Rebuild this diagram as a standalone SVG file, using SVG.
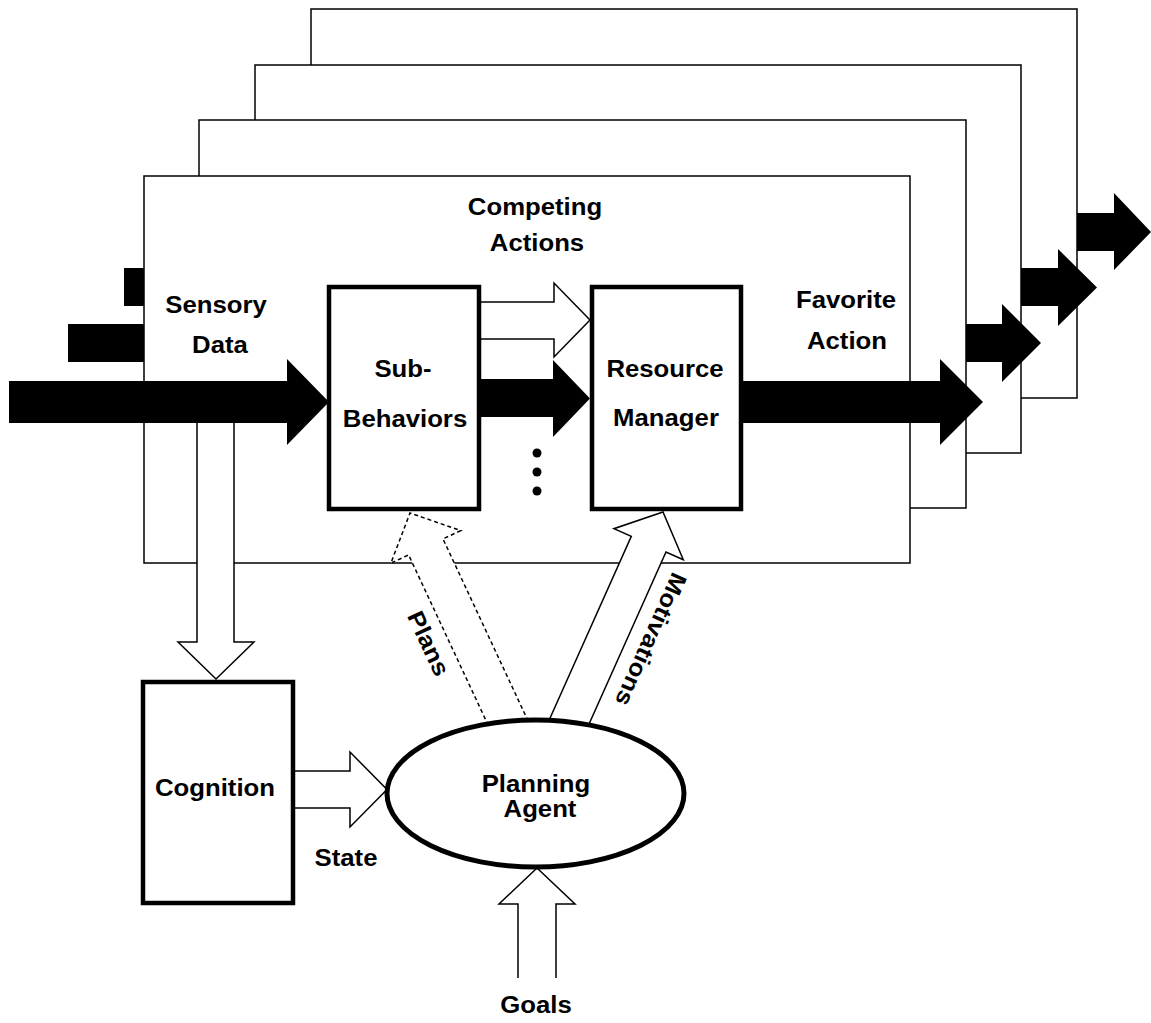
<svg xmlns="http://www.w3.org/2000/svg" width="1151" height="1023" viewBox="0 0 1151 1023">
  <style>
    .frame { fill: #fff; stroke: #000; stroke-width: 1.5; }
    .solid { fill: #000; stroke: none; }
    .hollow { fill: #fff; stroke: #000; stroke-width: 1.5; stroke-linejoin: miter; }
    .dashed { fill: #fff; stroke: #000; stroke-width: 1.5; stroke-dasharray: 4 3; }
    .box { fill: #fff; stroke: #000; stroke-width: 4.5; }
    .lbl { font-family: "Liberation Sans", Arial, Helvetica, sans-serif; font-weight: bold; font-size: 23.4px; text-anchor: middle; fill: #000; }
  </style>

  <!-- stacked behaviour layers, back to front; each layer's in/out arrows sit behind its own panel -->
  <g id="behavior-stack">
    <g id="layer-4">
      <rect class="solid" x="180" y="213" width="140" height="38"/>
      <polygon class="solid" points="1050,213 1114,213 1114,193 1151,232 1114,270 1114,251 1050,251"/>
      <rect class="frame" x="311" y="9" width="766" height="389"/>
    </g>
    <g id="layer-3">
      <rect class="solid" x="124" y="268" width="140" height="38"/>
      <polygon class="solid" points="990,268 1058,268 1058,249 1097,287.5 1058,326 1058,306 990,306"/>
      <rect class="frame" x="255" y="65" width="766" height="388"/>
    </g>
    <g id="layer-2">
      <rect class="solid" x="68" y="324" width="140" height="38"/>
      <polygon class="solid" points="930,324 1002,324 1002,304 1041,343 1002,382 1002,362 930,362"/>
      <rect class="frame" x="199" y="120" width="767" height="388"/>
    </g>
    <g id="layer-1">
      <rect class="frame" x="144" y="176" width="766" height="387"/>
    </g>
  </g>

  <g id="connectors">
    <!-- sensory data down to cognition -->
    <path class="hollow" d="M197,420 V642 H178 L216,679 L254,642 H234 V420"/>
    <!-- state: cognition to planning agent -->
    <path class="hollow" d="M295,771 H350 V752 L387,789.5 L350,827 V808 H295"/>
    <!-- goals into planning agent -->
    <path class="hollow" d="M518,978 V904 H499 L537,868 L575,904 H556 V978"/>
    <!-- plans: planning agent to sub-behaviors -->
    <polygon class="dashed" points="531.2,727.6 443,538.9 460.7,530.6 410,513 390.9,563.2 408.6,554.9 496.8,743.6"/>
    <!-- motivations: planning agent to resource manager -->
    <polygon class="hollow" points="544.5,730.5 631.3,536.4 613.9,528.7 663,512 683.3,559.7 666,552 579.2,746.1"/>
    <!-- competing actions -->
    <path class="hollow" d="M481,302 H554 V283 L590,320 L554,357 V339 H481"/>
    <polygon class="solid" points="479,379 553,379 553,360 590,398.5 553,437 553,417 479,417"/>
    <!-- sensory data in, favourite action out -->
    <polygon class="solid" points="9,381 287,381 287,359 329,402 287,445 287,423 9,423"/>
    <polygon class="solid" points="741,381 940,381 940,359 983,402 940,445 940,423 741,423"/>
  </g>

  <g id="sub-behaviors">
    <rect class="box" x="329" y="287" width="150" height="222"/>
    <text class="lbl" transform="translate(403,377) scale(1.1,1)">Sub-</text>
    <text class="lbl" transform="translate(405,427) scale(1.1,1)">Behaviors</text>
  </g>

  <g id="resource-manager">
    <rect class="box" x="592" y="287" width="149" height="222"/>
    <text class="lbl" transform="translate(665,377) scale(1.1,1)">Resource</text>
    <text class="lbl" transform="translate(666,426) scale(1.1,1)">Manager</text>
  </g>

  <g id="more-behaviors">
    <circle cx="537" cy="453" r="4.5"/>
    <circle cx="537" cy="472" r="4.5"/>
    <circle cx="537" cy="491" r="4.5"/>
  </g>

  <g id="cognition">
    <rect class="box" x="143" y="682" width="150" height="221"/>
    <text class="lbl" transform="translate(215,796) scale(1.1,1)">Cognition</text>
  </g>

  <g id="planning-agent">
    <ellipse cx="535.5" cy="793.5" rx="148.5" ry="73.5" fill="#fff" stroke="#000" stroke-width="5"/>
    <text class="lbl" transform="translate(536,792) scale(1.1,1)">Planning</text>
    <text class="lbl" transform="translate(540,817) scale(1.1,1)">Agent</text>
  </g>

  <g id="labels">
    <text class="lbl" transform="translate(535,215) scale(1.1,1)">Competing</text>
    <text class="lbl" transform="translate(537,251) scale(1.1,1)">Actions</text>
    <text class="lbl" transform="translate(216,313) scale(1.1,1)">Sensory</text>
    <text class="lbl" transform="translate(220,353) scale(1.1,1)">Data</text>
    <text class="lbl" transform="translate(846,308) scale(1.1,1)">Favorite</text>
    <text class="lbl" transform="translate(847,349) scale(1.1,1)">Action</text>
    <text class="lbl" transform="translate(346,866) scale(1.1,1)">State</text>
    <text class="lbl" transform="translate(536,1013) scale(1.1,1)">Goals</text>
    <text class="lbl" transform="translate(428.5,643.5) rotate(65) scale(1.1,1)" y="8">Plans</text>
    <text class="lbl" transform="translate(651,639.5) rotate(114) scale(1.1,1)" y="8">Motivations</text>
  </g>
</svg>
